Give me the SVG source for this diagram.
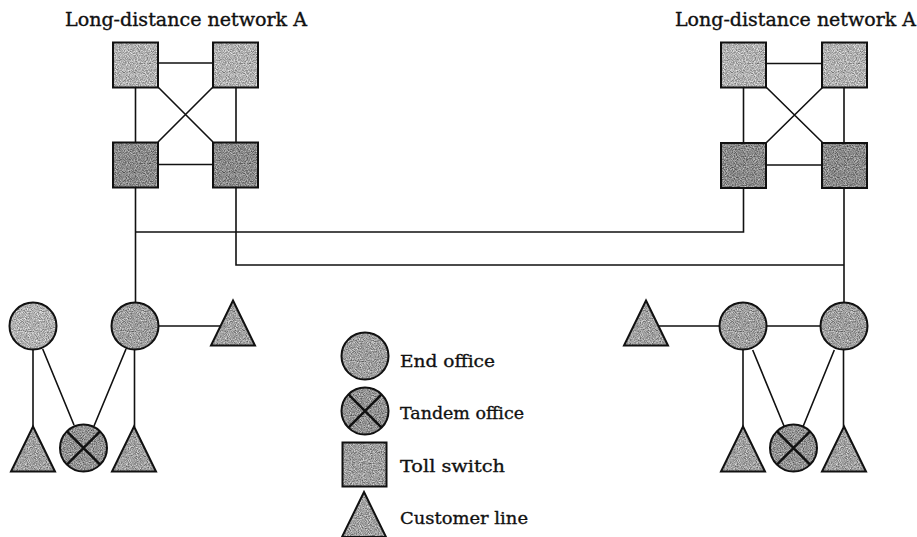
<svg xmlns="http://www.w3.org/2000/svg" width="917" height="537" viewBox="0 0 917 537">
  <defs>
    <!-- speckled halftone texture for the shape fills -->
    <filter id="grain" x="0" y="0" width="100%" height="100%" color-interpolation-filters="sRGB">
      <feTurbulence type="fractalNoise" baseFrequency="0.9" numOctaves="2" seed="7" result="t"/>
      <feColorMatrix in="t" type="matrix" values="1 0 0 0 0  1 0 0 0 0  1 0 0 0 0  0 0 0 0 1" result="g"/>
      <feComposite in="SourceGraphic" in2="g" operator="arithmetic" k1="0" k2="1" k3="0.8" k4="-0.4" result="m"/>
      <feComposite in="m" in2="SourceGraphic" operator="in"/>
    </filter>
    <symbol id="tollTop" overflow="visible">
      <rect x="0" y="0" width="45" height="45" fill="#b0b0b0" filter="url(#grain)"/>
      <rect x="0" y="0" width="45" height="45" fill="none" stroke="#111" stroke-width="2"/>
    </symbol>
    <symbol id="tollLow" overflow="visible">
      <rect x="0" y="0" width="45" height="45" fill="#8a8a8a" filter="url(#grain)"/>
      <rect x="0" y="0" width="45" height="45" fill="none" stroke="#111" stroke-width="2"/>
    </symbol>
    <symbol id="tollKey" overflow="visible">
      <rect x="0" y="0" width="44" height="44" fill="#9e9e9e" filter="url(#grain)"/>
      <rect x="0" y="0" width="44" height="44" fill="none" stroke="#111" stroke-width="2"/>
    </symbol>
    <symbol id="endOffice" overflow="visible">
      <circle cx="0" cy="0" r="23.5" fill="#9e9e9e" filter="url(#grain)"/>
      <circle cx="0" cy="0" r="23.5" fill="none" stroke="#111" stroke-width="2"/>
    </symbol>
    <symbol id="endLight" overflow="visible">
      <circle cx="0" cy="0" r="23.5" fill="#b0b0b0" filter="url(#grain)"/>
      <circle cx="0" cy="0" r="23.5" fill="none" stroke="#111" stroke-width="2"/>
    </symbol>
    <symbol id="tandem" overflow="visible">
      <circle cx="0" cy="0" r="23.5" fill="#929292" filter="url(#grain)"/>
      <path d="M-16.6,-16.6 L16.6,16.6 M16.6,-16.6 L-16.6,16.6" stroke="#111" stroke-width="2.5"/>
      <circle cx="0" cy="0" r="23.5" fill="none" stroke="#111" stroke-width="2"/>
    </symbol>
    <symbol id="customer" overflow="visible">
      <polygon points="0,0 22,45 -22,45" fill="#a0a0a0" filter="url(#grain)"/>
      <polygon points="0,0 22,45 -22,45" fill="none" stroke="#111" stroke-width="2" stroke-linejoin="miter"/>
    </symbol>
  </defs>
  <style>
    .title { font-family: "DejaVu Serif", "Liberation Serif", serif; font-size: 18px; fill: #111; stroke: #111; stroke-width: 0.35; }
    .legend { font-family: "DejaVu Serif", "Liberation Serif", serif; font-size: 17.5px; fill: #111; stroke: #111; stroke-width: 0.35; }
    .wire { stroke: #111; stroke-width: 1.6; fill: none; }
  </style>
  <rect width="917" height="537" fill="#ffffff"/>

  <text class="title" x="65" y="26" textLength="242" lengthAdjust="spacingAndGlyphs">Long-distance network A</text>
  <text class="title" x="675" y="26" textLength="241" lengthAdjust="spacingAndGlyphs">Long-distance network A</text>

  <!-- connectors -->
  <g id="connectors" class="wire">
    <!-- left long-distance mesh -->
    <path d="M158,63 H213 M158,164.5 H213 M135.5,87 V142 M236,87 V142 M158,87 L213,142 M213,87 L158,142"/>
    <!-- right long-distance mesh -->
    <path d="M766,63.5 H823 M766,165 H823 M743.5,87 V143 M844,87 V143 M766,87 L823,143 M823,87 L766,143"/>
    <!-- inter-network trunks -->
    <path d="M135.5,187 V302.5 M135.5,232 H743.5 V187"/>
    <path d="M236,187 V265 H844 M844,187 V302.5"/>
    <!-- left local network -->
    <path d="M158.5,326 H221"/>
    <path d="M33,349.5 V427 M42.7,349 L74,425 M126,349 L94,426 M134.5,349.5 V427"/>
    <!-- right local network -->
    <path d="M658,326 H719.5 M766.5,326 H820.5"/>
    <path d="M743,349.5 V427 M752.7,350 L784,426 M834.3,350 L803.3,426 M843.5,349.5 V427"/>
  </g>

  <!-- left long-distance network -->
  <g id="toll-L1"><use href="#tollTop" x="113" y="42.5"/></g>
  <g id="toll-L2"><use href="#tollTop" x="213" y="42.5"/></g>
  <g id="toll-L3"><use href="#tollLow" x="113" y="142.5"/></g>
  <g id="toll-L4"><use href="#tollLow" x="213" y="142.5"/></g>

  <!-- right long-distance network -->
  <g id="toll-R1"><use href="#tollTop" x="721" y="42.5"/></g>
  <g id="toll-R2"><use href="#tollTop" x="822" y="42.5"/></g>
  <g id="toll-R3"><use href="#tollLow" x="721" y="143"/></g>
  <g id="toll-R4"><use href="#tollLow" x="822" y="143"/></g>

  <!-- left local network -->
  <g id="end-L1"><use href="#endLight" x="33" y="326"/></g>
  <g id="end-L2"><use href="#endOffice" x="135" y="326"/></g>
  <g id="cust-L1"><use href="#customer" x="233" y="300.5"/></g>
  <g id="cust-L2"><use href="#customer" x="33" y="426.5"/></g>
  <g id="tandem-L"><use href="#tandem" x="83.5" y="448"/></g>
  <g id="cust-L3"><use href="#customer" x="134" y="426.5"/></g>

  <!-- right local network -->
  <g id="cust-R1"><use href="#customer" x="646" y="300.5"/></g>
  <g id="end-R1"><use href="#endOffice" x="743" y="326"/></g>
  <g id="end-R2"><use href="#endOffice" x="844" y="326"/></g>
  <g id="cust-R2"><use href="#customer" x="743" y="426.5"/></g>
  <g id="tandem-R"><use href="#tandem" x="793.5" y="448"/></g>
  <g id="cust-R3"><use href="#customer" x="844" y="426.5"/></g>

  <!-- legend -->
  <g id="legend-end">
    <use href="#endOffice" x="365" y="356"/>
    <text class="legend" x="400" y="367" textLength="95" lengthAdjust="spacingAndGlyphs">End office</text>
  </g>
  <g id="legend-tandem">
    <use href="#tandem" x="365" y="411"/>
    <text class="legend" x="400" y="419" textLength="124" lengthAdjust="spacingAndGlyphs">Tandem office</text>
  </g>
  <g id="legend-toll">
    <use href="#tollKey" x="342.5" y="442.5"/>
    <text class="legend" x="400" y="472" textLength="105" lengthAdjust="spacingAndGlyphs">Toll switch</text>
  </g>
  <g id="legend-customer">
    <use href="#customer" x="364" y="492"/>
    <text class="legend" x="400" y="523.5" textLength="128" lengthAdjust="spacingAndGlyphs">Customer line</text>
  </g>
</svg>
